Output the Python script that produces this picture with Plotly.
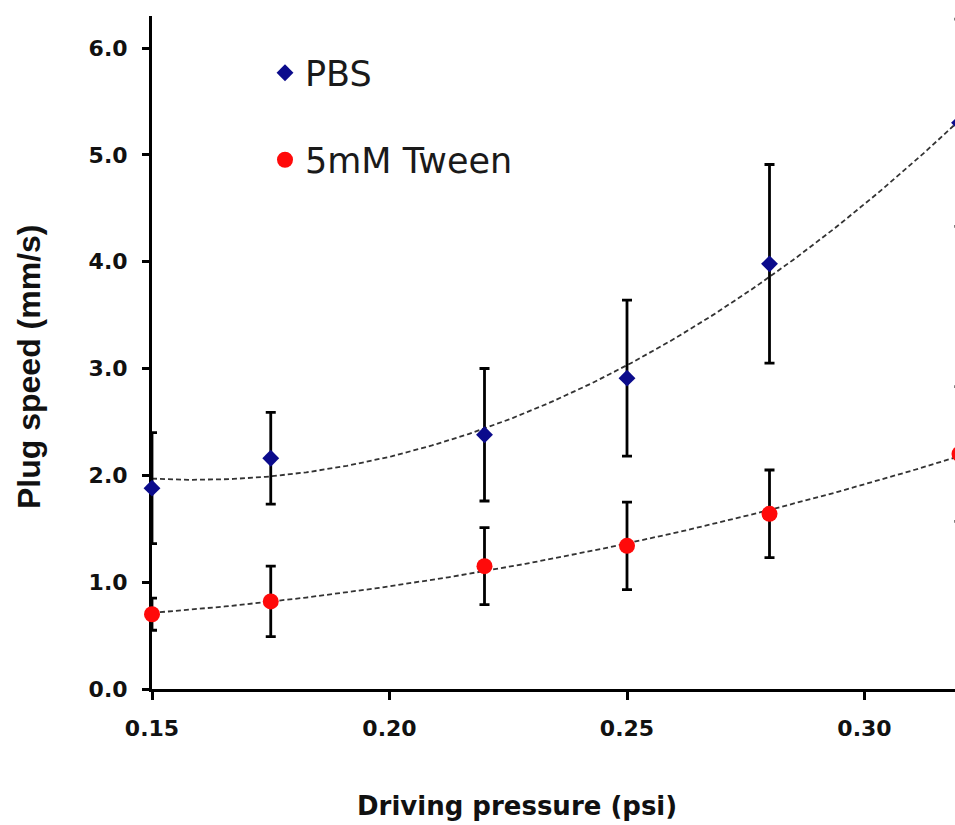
import numpy as np
import plotly.graph_objects as go

# Data
pressure = [0.15, 0.175, 0.22, 0.25, 0.28, 0.32]
pbs_speed = [1.88, 2.16, 2.38, 2.91, 3.98, 5.30]
pbs_err = [0.52, 0.43, 0.62, 0.73, 0.93, 0.97]
tween_speed = [0.70, 0.82, 1.15, 1.34, 1.64, 2.20]
tween_err = [0.15, 0.33, 0.36, 0.41, 0.41, 0.63]

x_ticks = [0.15, 0.20, 0.25, 0.30]
y_ticks = [0, 1, 2, 3, 4, 5, 6]

# 2nd-order polynomial trendlines (as in the original)
xfit = np.linspace(min(pressure), max(pressure), 200)
pbs_fit = np.polyval(np.polyfit(pressure, pbs_speed, 2), xfit)
tween_fit = np.polyval(np.polyfit(pressure, tween_speed, 2), xfit)

BLUE = "#0b0b8c"
RED = "#ff0a0a"
TREND = dict(color="#333333", width=1.8, dash="5px,3px")
ERR = dict(type="data", visible=True, color="black", thickness=2.8, width=5)

fig = go.Figure()
fig.add_trace(go.Scatter(x=xfit, y=pbs_fit, mode="lines", line=TREND,
                         showlegend=False, hoverinfo="skip"))
fig.add_trace(go.Scatter(x=xfit, y=tween_fit, mode="lines", line=TREND,
                         showlegend=False, hoverinfo="skip"))
fig.add_trace(go.Scatter(
    x=pressure, y=pbs_speed, mode="markers", name="PBS",
    marker=dict(symbol="diamond", size=13, color=BLUE),
    error_y=dict(array=pbs_err, **ERR), cliponaxis=False, legend="legend"))
fig.add_trace(go.Scatter(
    x=pressure, y=tween_speed, mode="markers", name="5mM Tween",
    marker=dict(symbol="circle", size=16, color=RED),
    error_y=dict(array=tween_err, **ERR), cliponaxis=False, legend="legend2"))

# The original chart is cropped at its right edge: the figure is drawn a bit
# wider than the 955 px window and the overflow is hidden.
W, H = 966, 825
L, R, T, B = 152, 0, 16, 136
pw, ph = W - L - R, H - T - B

def px_x(p):
    return (p - L) / pw

def px_y(p):
    return (H - B - p) / ph

legend_font = dict(family="DejaVu Sans", size=35, color="#1a1a1a")
tick_font = dict(family="DejaVu Sans", size=22, color="#111111", weight="bold")
fig.update_layout(
    width=W, height=H,
    margin=dict(l=L, r=R, t=T, b=B, pad=0),
    plot_bgcolor="white", paper_bgcolor="white",
    legend=dict(x=px_x(265), y=px_y(73), xanchor="left", yanchor="middle",
                font=legend_font, bgcolor="rgba(0,0,0,0)", borderwidth=0),
    legend2=dict(x=px_x(265), y=px_y(160), xanchor="left", yanchor="middle",
                 font=legend_font, bgcolor="rgba(0,0,0,0)", borderwidth=0),
    xaxis=dict(
        range=[0.15, 0.15 + pw / 237.5 * 0.05],
        tickvals=x_ticks, ticktext=[f"{v:.2f}" for v in x_ticks],
        ticks="outside", ticklen=8, tickwidth=2.5, tickcolor="black",
        showline=True, linecolor="black", linewidth=3, layer="below traces",
        showgrid=False, zeroline=False, ticklabelstandoff=10,
        tickfont=tick_font,
    ),
    yaxis=dict(
        range=[0, 6.3],
        tickvals=y_ticks, ticktext=[f"{v:.1f}" for v in y_ticks],
        ticks="outside", ticklen=7, tickwidth=2.5, tickcolor="black",
        showline=True, linecolor="black", linewidth=3, layer="below traces",
        showgrid=False, zeroline=False, ticklabelstandoff=10,
        tickfont=tick_font,
    ),
    annotations=[
        dict(text="<b>Driving pressure (psi)</b>", xref="paper", yref="paper",
             x=px_x(517), y=px_y(806), xanchor="center", yanchor="middle",
             showarrow=False,
             font=dict(family="DejaVu Sans", size=26, color="#111111")),
        dict(text="<b>Plug speed (mm/s)</b>", xref="paper", yref="paper",
             x=px_x(29), y=px_y(367), xanchor="center", yanchor="middle",
             textangle=-90, showarrow=False,
             font=dict(family="Liberation Sans", size=32, color="#111111")),
    ],
)

fig.write_html(
    "out.html",
    config={"displayModeBar": False},
    post_script="document.body.style.margin='0';document.body.style.overflow='hidden';",
)
